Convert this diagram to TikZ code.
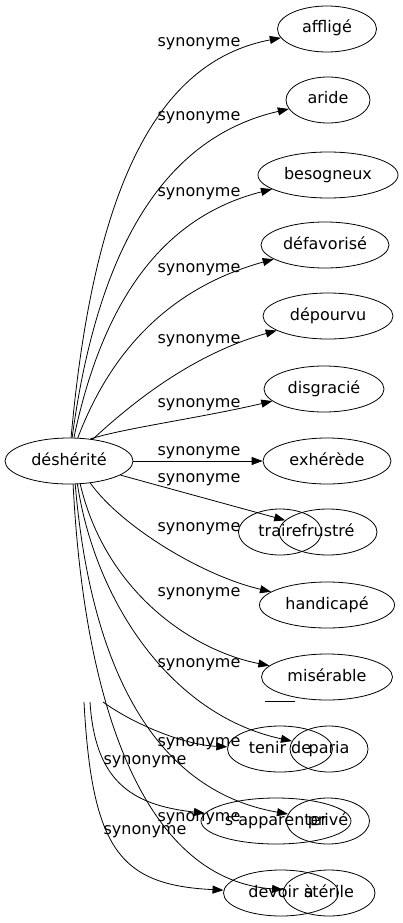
\documentclass[tikz,border=0pt]{standalone}
\usepackage{fontspec}
\setmainfont{DejaVu Sans}
\usetikzlibrary{shapes.geometric,arrows.meta}
\tikzset{
	word/.style={ellipse,draw,line width=0.8pt,minimum height=46pt,inner sep=0pt,text height=12pt,text depth=4pt},
	rel/.style={inner sep=0pt,text height=12pt,text depth=4pt},
	syn/.style={line width=0.8pt,-{Triangle[length=11pt,width=8pt]}}
}
\begin{document}
\begin{tikzpicture}[x=1pt,y=-1pt,font=\fontsize{16}{19}\selectfont]
		\useasboundingbox (0,0) rectangle (403,923);
		% words
		\node[word,minimum width=128pt] (desherite) at (69,461) {déshérité};
		\node[word,minimum width=99pt] (afflige) at (327,29) {affligé};
		\node[word,minimum width=84pt] (aride) at (328,100) {aride};
		\node[word,minimum width=140pt] (besogneux) at (328,175) {besogneux};
		\node[word,minimum width=128pt] (defavorise) at (325,245) {défavorisé};
		\node[word,minimum width=130pt] (depourvu) at (328,316) {dépourvu};
		\node[word,minimum width=120pt] (disgracie) at (324,389) {disgracié};
		\node[word,minimum width=128pt] (exherede) at (327,461) {exhérède};
		\node[word,minimum width=83pt] (traire) at (280,532) {traire};
		\node[word,minimum width=98pt] (frustre) at (328,532) {frustré};
		\node[word,minimum width=135pt] (handicape) at (327,605) {handicapé};
		\node[word,minimum width=131pt] (miserable) at (327,677) {misérable};
		\node[word,minimum width=105pt] (tenirde) at (280,749) {tenir de};
		\node[word,minimum width=78pt] (paria) at (329,749) {paria};
		\node[word,minimum width=150pt] (sapparenter) at (276,821) {s'apparenter};
		\node[word,minimum width=83pt] (prive) at (328,821) {privé};
		\node[word,minimum width=115pt] (devoira) at (281,893) {devoir à};
		\node[word,minimum width=92pt] (sterile) at (329,893) {stérile};
		% loose ends
		\coordinate (cutA) at (103,702);
		\coordinate (cutB) at (90,702);
		\coordinate (cutC) at (84,702);
		\coordinate (stubL) at (265,701);
		\coordinate (stubR) at (295,701);
		% edges
		\draw[syn] (desherite) .. controls (95,170) and (165,60) .. (afflige);
		\draw[syn] (desherite) .. controls (100,230) and (175,135) .. (aride);
		\draw[syn] (desherite) .. controls (105,290) and (170,215) .. (besogneux);
		\draw[syn] (desherite) .. controls (115,340) and (180,285) .. (defavorise);
		\draw[syn] (desherite) .. controls (130,405) and (190,355) .. (depourvu);
		\draw[syn] (desherite.46) .. controls (125,428) and (200,418) .. (disgracie);
		\draw[syn] (desherite) -- (exherede);
		\draw[syn] (desherite) -- (frustre);
		\draw[syn] (desherite.-46) .. controls (120,525) and (200,575) .. (handicape);
		\draw[syn] (desherite.-64) .. controls (105,590) and (190,650) .. (miserable);
		\draw[syn] (desherite.-70) .. controls (95,600) and (170,715) .. (paria);
		\draw[syn] (desherite.-75) .. controls (90,660) and (150,790) .. (prive);
		\draw[syn] (desherite.-80) .. controls (85,720) and (150,880) .. (sterile);
		\draw[syn] (cutA) .. controls (135,725) and (185,745) .. (tenirde);
		\draw[syn] (cutB) .. controls (95,780) and (130,805) .. (sapparenter);
		\draw[syn] (cutC) .. controls (92,850) and (120,885) .. (devoira);
		\draw[line width=0.8pt] (stubL) -- (stubR);
		% labels
		\node[rel] (l1) at (199,43) {synonyme};
		\node[rel] (l2) at (199,117) {synonyme};
		\node[rel] (l3) at (199,192) {synonyme};
		\node[rel] (l4) at (199,268) {synonyme};
		\node[rel] (l5) at (199,339) {synonyme};
		\node[rel] (l6) at (199,403) {synonyme};
		\node[rel] (l7) at (199,451) {synonyme};
		\node[rel] (l8) at (199,478) {synonyme};
		\node[rel] (l9) at (199,527) {synonyme};
		\node[rel] (l10) at (199,592) {synonyme};
		\node[rel] (l11) at (199,663) {synonyme};
		\node[rel] (l12) at (199,742) {synonyme};
		\node[rel] (l13) at (145,760) {synonyme};
		\node[rel] (l14) at (199,817) {synonyme};
		\node[rel] (l15) at (145,830) {synonyme};
	\end{tikzpicture}
\end{document}
